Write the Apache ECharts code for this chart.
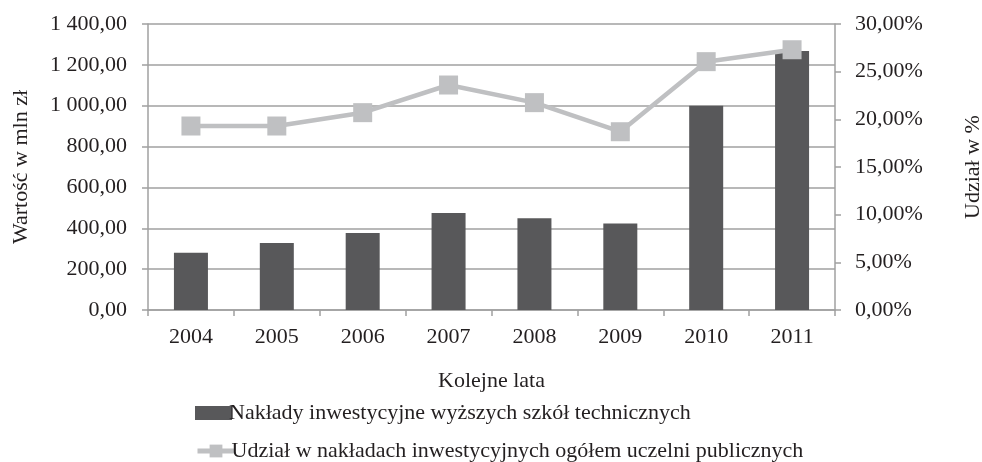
<!DOCTYPE html>
<html>
<head>
<meta charset="utf-8">
<script src="https://cdn.jsdelivr.net/npm/echarts@6/dist/echarts.min.js"></script>
<style>
  html, body { margin: 0; padding: 0; background: #fff; }
  #chart { width: 982px; height: 462px; }
</style>
</head>
<body>
<div id="chart"></div>
<script>
// lata i wartosci
var years = ['2004', '2005', '2006', '2007', '2008', '2009', '2010', '2011'];
var naklady = [280, 328, 377, 475, 449, 424, 1000, 1268];
var udzial = [19.3, 19.3, 20.7, 23.6, 21.75, 18.7, 26.05, 27.3];

var serif = '"Liberation Serif", "DejaVu Serif", serif';
var txt = '#231f20';
var gray = '#a0a0a0';
var fs = 22;

var nameBar = 'Nakłady inwestycyjne wyższych szkół technicznych';
var nameLine = 'Udział w nakładach inwestycyjnych ogółem uczelni publicznych';

function plNum(v) {
  var s = v.toFixed(2).replace('.', ',');
  var parts = s.split(',');
  parts[0] = parts[0].replace(/\B(?=(\d{3})+(?!\d))/g, ' ');
  return parts.join(',');
}

var chart = echarts.init(document.getElementById('chart'));
chart.setOption({
  animation: false,
  textStyle: { fontFamily: serif, color: txt },
  grid: { left: 148, right: 147, top: 24, bottom: 152, outerBoundsMode: 'none' },
  legend: [
    {
      left: 190,
      top: 397,
      itemWidth: 37,
      itemHeight: 14,
      textStyle: { fontFamily: serif, fontSize: fs, color: txt, padding: [0, 0, 0, -8] },
      data: [{ name: nameBar, icon: 'rect' }]
    },
    {
      left: 190,
      top: 435,
      itemWidth: 37,
      itemHeight: 16,
      lineStyle: { width: 5, color: '#bfc0c2' },
      textStyle: { fontFamily: serif, fontSize: fs, color: txt, padding: [0, 0, 0, -8] },
      data: [{ name: nameLine }]
    }
  ],
  xAxis: {
    type: 'category',
    data: years,
    name: 'Kolejne lata',
    nameLocation: 'middle',
    nameGap: 60,
    nameTextStyle: { fontSize: fs, color: txt },
    axisLine: { lineStyle: { color: gray, width: 1.5 } },
    axisTick: { show: true, length: 6, lineStyle: { color: gray, width: 1.5 } },
    axisLabel: { fontSize: fs, color: txt, margin: 16 }
  },
  yAxis: [
    {
      type: 'value',
      min: 0,
      max: 1400,
      interval: 200,
      name: 'Wartość w mln zł',
      nameLocation: 'middle',
      nameRotate: 90,
      nameGap: 116,
      nameTextStyle: { fontSize: fs, color: txt },
      axisLine: { show: true, lineStyle: { color: gray, width: 1.5 } },
      axisTick: { show: true, length: 6, lineStyle: { color: gray, width: 1.5 } },
      splitLine: { lineStyle: { color: gray, width: 1.5 } },
      axisLabel: { fontSize: fs, color: txt, margin: 21, formatter: plNum }
    },
    {
      type: 'value',
      min: 0,
      max: 30,
      interval: 5,
      name: 'Udział w %',
      nameLocation: 'middle',
      nameRotate: 90,
      nameGap: 127,
      nameTextStyle: { fontSize: fs, color: txt },
      axisLine: { show: true, lineStyle: { color: gray, width: 1.5 } },
      axisTick: { show: true, length: 6, lineStyle: { color: gray, width: 1.5 } },
      splitLine: { show: false },
      axisLabel: {
        fontSize: fs, color: txt, margin: 20,
        formatter: function (v) { return v.toFixed(2).replace('.', ',') + '%'; }
      }
    }
  ],
  series: [
    {
      name: nameBar,
      type: 'bar',
      yAxisIndex: 0,
      data: naklady,
      barWidth: 34,
      itemStyle: { color: '#58585a' }
    },
    {
      name: nameLine,
      type: 'line',
      yAxisIndex: 1,
      data: udzial,
      symbol: 'rect',
      symbolSize: 19,
      lineStyle: { color: '#bfc0c2', width: 4.5 },
      itemStyle: { color: '#bfc0c2' }
    }
  ]
});
</script>
</body>
</html>
